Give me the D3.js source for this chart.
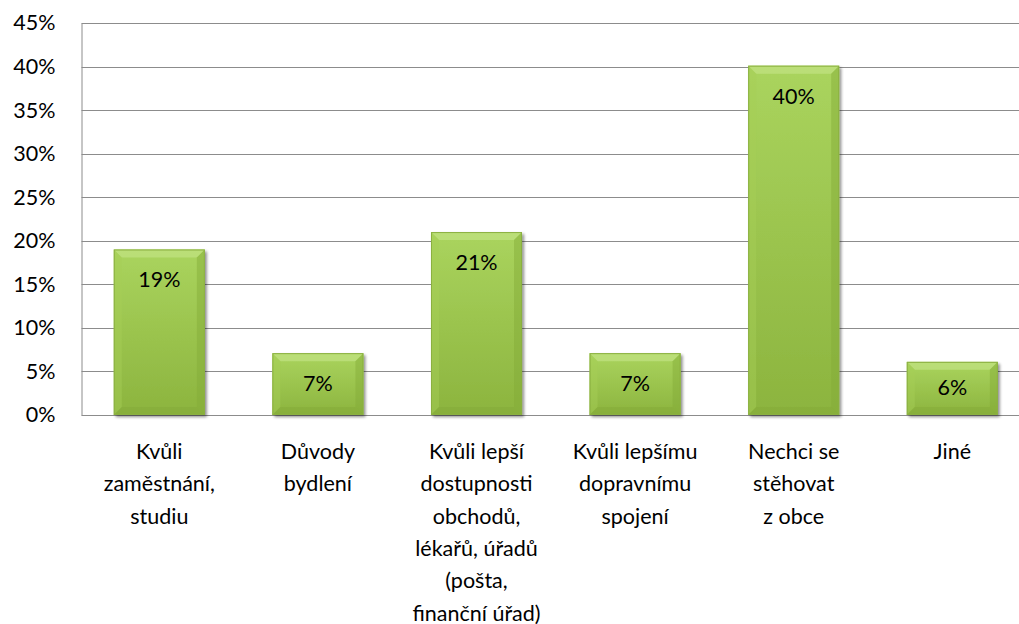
<!DOCTYPE html>
<html>
<head>
<meta charset="utf-8">
<script src="https://cdn.jsdelivr.net/npm/d3@7"></script>
<style>
  body { margin: 0; background: #fff; }
  text { font-family: Lato, "Open Sans", sans-serif; fill: #000; }
</style>
</head>
<body>
<div id="chart"></div>
<script>
document.addEventListener('DOMContentLoaded', () => {

  const categories = [
    ['Kvůli', 'zaměstnání,', 'studiu'],
    ['Důvody', 'bydlení'],
    ['Kvůli lepší', 'dostupnosti', 'obchodů,', 'lékařů, úřadů', '(pošta,', 'finanční úřad)'],
    ['Kvůli lepšímu', 'dopravnímu', 'spojení'],
    ['Nechci se', 'stěhovat', 'z obce'],
    ['Jiné']
  ];
  const values = [19, 7.1, 21, 7.1, 40.1, 6.1];
  const labels = ['19%', '7%', '21%', '7%', '40%', '6%'];
  const yTicks = [0, 5, 10, 15, 20, 25, 30, 35, 40, 45];

  const width = 1019;
  const height = 624;
  const left = 81.5;
  const top = 23;
  const bottom = 415;
  const fontSize = '21.5px';

  const svg = d3.select('#chart')
                .append('svg')
                .attr('width', width)
                .attr('height', height);

  const defs = svg.append('defs');
  const grad = defs.append('linearGradient')
                   .attr('id', 'barGrad')
                   .attr('x1', 0).attr('y1', 0)
                   .attr('x2', 0).attr('y2', 1);
  grad.append('stop').attr('offset', '0%').attr('stop-color', '#aad45e');
  grad.append('stop').attr('offset', '100%').attr('stop-color', '#8cb43e');

  const shadow = defs.append('filter')
                     .attr('id', 'shadow')
                     .attr('x', '-10%').attr('y', '-10%')
                     .attr('width', '130%').attr('height', '130%');
  shadow.append('feGaussianBlur').attr('in', 'SourceAlpha').attr('stdDeviation', 1.5);
  shadow.append('feOffset').attr('dx', 2).attr('dy', 2).attr('result', 'off');
  shadow.append('feComponentTransfer').append('feFuncA').attr('type', 'linear').attr('slope', 0.45);
  const merge = shadow.append('feMerge');
  merge.append('feMergeNode');
  merge.append('feMergeNode').attr('in', 'SourceGraphic');

  const xScale = d3.scaleBand()
                   .domain(d3.range(categories.length))
                   .range([80, 80 + 6 * 158.6])
                   .paddingInner(0.426)
                   .paddingOuter(0.213);

  const yScale = d3.scaleLinear()
                   .domain([0, 45])
                   .range([bottom, top]);

  // gridlines
  svg.append('g')
     .selectAll('line')
     .data(yTicks)
     .enter()
     .append('line')
     .attr('x1', left)
     .attr('x2', width)
     .attr('y1', (d) => Math.round(yScale(d)) + 0.5)
     .attr('y2', (d) => Math.round(yScale(d)) + 0.5)
     .attr('stroke', '#8c8c8c')
     .attr('stroke-width', 1);

  const yAxis = d3.axisLeft(yScale)
                  .tickValues(yTicks)
                  .tickSize(0)
                  .tickPadding(26)
                  .tickFormat((d) => d + '%');

  const gy = svg.append('g')
                .attr('transform', 'translate(' + left + ', 0)')
                .call(yAxis);
  gy.select('.domain').attr('stroke', '#8c8c8c');
  gy.selectAll('text')
    .style('font-size', fontSize)
    .style('font-family', 'Lato, "Open Sans", sans-serif');

  // bars
  const bars = svg.append('g')
                  .selectAll('g')
                  .data(values)
                  .enter()
                  .append('g');

  bars.append('rect')
      .attr('x', (d, i) => xScale(i))
      .attr('y', (d) => yScale(d))
      .attr('width', xScale.bandwidth())
      .attr('height', (d) => bottom - yScale(d))
      .attr('fill', 'url(#barGrad)')
      .attr('filter', 'url(#shadow)');

  // bevel edges
  const b = 8;
  const bevel = (d, i, side) => {
    const x0 = xScale(i), x1 = x0 + xScale.bandwidth();
    const y0 = yScale(d), y1 = bottom;
    const pts = {
      top: [[x0, y0], [x1, y0], [x1 - b, y0 + b], [x0 + b, y0 + b]],
      left: [[x0, y0], [x0 + b, y0 + b], [x0 + b, y1 - b], [x0, y1]],
      right: [[x1, y0], [x1 - b, y0 + b], [x1 - b, y1 - b], [x1, y1]],
      bottom: [[x0, y1], [x0 + b, y1 - b], [x1 - b, y1 - b], [x1, y1]]
    };
    return pts[side].map((p) => p.join(',')).join(' ');
  };
  const bevelFill = { top: '#c2e283', left: '#a6cf56', right: '#83aa38', bottom: '#83a838' };
  ['top', 'left', 'right', 'bottom'].forEach((side) => {
    bars.append('polygon')
        .attr('points', (d, i) => bevel(d, i, side))
        .attr('fill', bevelFill[side])
        .attr('opacity', side === 'top' ? 0.7 : 0.45);
  });

  bars.append('rect')
      .attr('x', (d, i) => xScale(i) + 0.5)
      .attr('y', (d) => yScale(d) + 0.5)
      .attr('width', xScale.bandwidth() - 1)
      .attr('height', (d) => bottom - yScale(d) - 1)
      .attr('fill', 'none')
      .attr('stroke', '#8bb041')
      .attr('stroke-width', 1);

  // data labels
  bars.append('text')
      .attr('x', (d, i) => xScale(i) + xScale.bandwidth() / 2)
      .attr('y', (d) => Math.min(yScale(d) + 38, (yScale(d) + bottom) / 2 + 7))
      .attr('text-anchor', 'middle')
      .style('font-size', fontSize)
      .text((d, i) => labels[i]);

  // category labels
  const cats = svg.append('g')
                  .selectAll('text')
                  .data(categories)
                  .enter()
                  .append('text')
                  .attr('text-anchor', 'middle')
                  .style('font-size', fontSize);

  cats.selectAll('tspan')
      .data((d, i) => d.map((line) => ({ line, i })))
      .enter()
      .append('tspan')
      .attr('x', (d) => xScale(d.i) + xScale.bandwidth() / 2)
      .attr('y', (d, j) => 459 + j * 32.3)
      .text((d) => d.line);
});
</script>
</body>
</html>
